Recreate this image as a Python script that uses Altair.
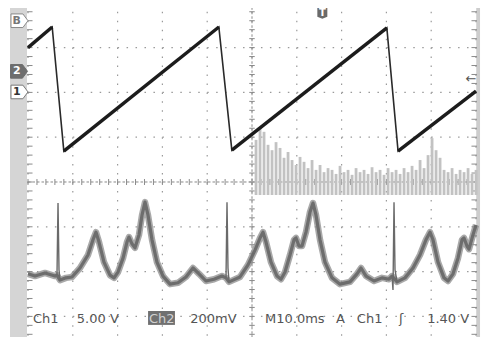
import altair as alt
import pandas as pd
import numpy as np

# ---------------- values ----------------
# time in ms (10 ms / division, 10 divisions), amplitude in screen divisions (0 = centre line)
saw_t = [0, 5.4, 8.0, 42.6, 45.5, 80.1, 82.6, 100]
saw_v = [3.0, 3.46, 0.69, 3.46, 0.71, 3.44, 0.69, 2.03]

# Ch2 trace (without the three narrow spikes)
ch2_t = [0, 1.56, 3.79, 6.03, 6.47, 7.14, 8.48, 9.82, 11.61, 13.39, 14.51, 15.18,
         15.85, 16.96, 18.30, 19.20, 20.09, 21.21, 22.10, 22.54, 23.21, 23.88, 24.78, 25.45,
         26.12, 26.79, 27.68, 28.79, 30.13, 31.70, 33.48, 35.27, 36.83, 38.17, 39.73, 41.52,
         43.30, 44.20, 44.87, 45.76, 47.32, 49.11, 50.67, 51.79, 52.46, 53.13,
         54.24, 55.58, 56.47, 57.37, 58.48, 59.38, 59.82, 60.49, 61.16, 62.05, 62.95, 63.62,
         64.29, 65.18, 66.29, 67.86, 69.64, 71.88, 73.44, 74.33, 75.45, 77.23, 79.02, 80.58,
         81.25, 82.37, 84.15, 85.94, 87.50, 88.84, 89.73, 90.40, 91.52,
         92.86, 93.75, 94.87, 95.98, 96.88, 97.32, 97.99, 98.44, 99.33, 100]
ch2_v = [-2.05, -2.10, -2.03, -2.10, -2.08, -2.19, -2.14, -2.12, -1.92, -1.63,
         -1.29, -1.12, -1.34, -1.79, -2.08, -2.14, -2.01, -1.70, -1.34, -1.23, -1.38, -1.47,
         -1.18, -0.74, -0.45, -0.74, -1.29, -1.79, -2.10, -2.28, -2.25, -2.12, -1.92, -2.05,
         -2.21, -2.17, -2.10, -2.14, -2.23, -2.19, -2.12, -1.85, -1.52, -1.25,
         -1.12, -1.34, -1.79, -2.10, -2.17, -2.01, -1.63, -1.29, -1.25, -1.43, -1.43, -1.12,
         -0.67, -0.47, -0.74, -1.29, -1.79, -2.14, -2.28, -2.23, -2.05, -1.92, -2.10, -2.21,
         -2.14, -2.17, -2.10, -2.23, -2.14, -1.92, -1.63, -1.29, -1.12,
         -1.29, -1.79, -2.14, -2.21, -2.05, -1.70, -1.29, -1.25, -1.43, -1.50, -1.18, -0.96]

# Ch2 narrow spikes (one per sawtooth reset)
spike_id = [0, 0, 0, 0, 1, 1, 1, 1, 2, 2, 2, 2, 2]
spike_t = [6.47, 6.70, 6.92, 7.14, 44.20, 44.42, 44.64, 44.87, 81.25, 81.47, 81.70, 81.92, 82.37]
spike_v = [-2.08, -0.47, -1.96, -2.19, -2.14, -0.45, -1.92, -2.23, -2.10, -2.41, -0.45, -1.96, -2.23]

# grey spectrum-like bars (one every 0.893 ms starting at 50.9 ms)
fft_start, fft_step, fft_base = 50.9, 0.893, -0.29
fft_top = [0.94, 1.21, 1.12, 0.83, 0.71, 0.89, 0.76, 0.54, 0.67, 0.49,
           0.38, 0.56, 0.45, 0.31, 0.49, 0.27, 0.38, 0.22, 0.31, 0.27,
           0.18, 0.36, 0.22, 0.27, 0.16, 0.31, 0.22, 0.27, 0.18, 0.33,
           0.22, 0.27, 0.16, 0.31, 0.22, 0.27, 0.18, 0.31, 0.22, 0.36,
           0.27, 0.49, 0.31, 0.60, 0.98, 0.71, 0.54, 0.27, 0.22, 0.31,
           0.18, 0.27, 0.22, 0.31, 0.18, 0.27]

labels = ["Ch1", "5.00 V", "Ch2", "200mV", "M10.0ms", "A", "Ch1", "ʃ", "1.40 V"]
label_t = [1.1, 10.9, 27.0, 36.2, 52.9, 68.75, 73.4, 82.8, 89.1]

# ---------------- scales ----------------
X = alt.Scale(domain=[0, 100], nice=False, zero=False)
Y = alt.Scale(domain=[-3.46, 3.884], nice=False, zero=False)
GRID_TOP, GRID_BOT = 4.0, -3.46


def xq(f):
    return alt.X(f, type="quantitative", scale=X, axis=None)


def yq(f):
    return alt.Y(f, type="quantitative", scale=Y, axis=None)


layers = []

# left grey strip and right band
strips = pd.DataFrame({"a": [-4.02, 100.05], "b": [-0.22, 100.9],
                       "c": [GRID_TOP, GRID_TOP], "d": [GRID_BOT, GRID_BOT],
                       "col": ["#d5d5d5", "#cdcdcd"]})
layers.append(alt.Chart(strips).mark_rect().encode(
    x=xq("a"), x2=alt.X2("b"), y=yq("c"), y2=alt.Y2("d"),
    color=alt.Color("col:N", scale=None)))

# dotted graticule
vg = pd.DataFrame({"t": list(range(0, 101, 10)), "y1": GRID_TOP, "y2": GRID_BOT})
layers.append(alt.Chart(vg).mark_rule(color="#9a9a9a", strokeWidth=1.2, strokeDash=[1.5, 7.46]).encode(
    x=xq("t"), y=yq("y1"), y2=alt.Y2("y2")))
hg = pd.DataFrame({"v": [-3, -2, -1, 1, 2, 3], "x1": 0, "x2": 100})
layers.append(alt.Chart(hg).mark_rule(color="#9a9a9a", strokeWidth=1.2, strokeDash=[1.5, 7.46]).encode(
    y=yq("v"), x=xq("x1"), x2=alt.X2("x2")))

# centre cross
cx = pd.DataFrame({"v": [0], "x1": [0], "x2": [100]})
layers.append(alt.Chart(cx).mark_rule(color="#8a8a8a", strokeWidth=1, strokeDash=[2.5, 2]).encode(
    y=yq("v"), x=xq("x1"), x2=alt.X2("x2")))
cy = pd.DataFrame({"t": [50], "y1": [GRID_TOP], "y2": [GRID_BOT]})
layers.append(alt.Chart(cy).mark_rule(color="#8a8a8a", strokeWidth=1, strokeDash=[2.5, 2]).encode(
    x=xq("t"), y=yq("y1"), y2=alt.Y2("y2")))

ht = pd.DataFrame({"t": np.arange(0, 100.01, 2.0), "v": 0.0})
layers.append(alt.Chart(ht).mark_point(shape="M0,-1L0,1", size=36, filled=False,
                                       stroke="#8a8a8a", strokeWidth=1, opacity=1).encode(
    x=xq("t"), y=yq("v")))
vt_v = np.arange(-3.4, 3.81, 0.2)
vt = pd.DataFrame({"t": np.concatenate([np.full(len(vt_v), 50.0), np.full(len(vt_v), 0.4),
                                         np.full(len(vt_v), 99.6)]),
                   "v": np.concatenate([vt_v, vt_v, vt_v])})
layers.append(alt.Chart(vt).mark_point(shape="M-1,0L1,0", size=30, filled=False,
                                       stroke="#8a8a8a", strokeWidth=1, opacity=1).encode(
    x=xq("t"), y=yq("v")))

# grey bars
fft = pd.DataFrame({"t": [fft_start + fft_step * i for i in range(len(fft_top))],
                    "top": fft_top, "base": fft_base})
layers.append(alt.Chart(fft).mark_rule(color="#c2c2c2", strokeWidth=2.8).encode(
    x=xq("t"), y=yq("base"), y2=alt.Y2("top")))

# Ch2 trace (fuzzy band)
c2 = pd.DataFrame({"t": ch2_t, "v": ch2_v})
layers.append(alt.Chart(c2).mark_line(color="#8c8c8c", strokeWidth=6.5, opacity=0.75,
                                      strokeJoin="round").encode(x=xq("t"), y=yq("v")))
layers.append(alt.Chart(c2).mark_line(color="#666666", strokeWidth=3.2, opacity=0.9,
                                      strokeJoin="round").encode(x=xq("t"), y=yq("v")))
sp = pd.DataFrame({"t": spike_t, "v": spike_v, "g": spike_id})
layers.append(alt.Chart(sp).mark_line(color="#6a6a6a", strokeWidth=1.4).encode(
    x=xq("t"), y=yq("v"), detail="g:N"))

# Ch1 sawtooth: thin fast edges, thick ramps
c1 = pd.DataFrame({"t": saw_t, "v": saw_v, "g": [i // 2 for i in range(len(saw_t))]})
layers.append(alt.Chart(c1).mark_line(color="#2a2a2a", strokeWidth=1.6).encode(
    x=xq("t"), y=yq("v")))
layers.append(alt.Chart(c1).mark_line(color="#1c1c1c", strokeWidth=3.4).encode(
    x=xq("t"), y=yq("v"), detail="g:N"))

# left channel markers
pent = "M-1,-0.8L0.4,-0.8L1,0L0.4,0.8L-1,0.8Z"
mk = pd.DataFrame({"t": [-1.9, -2.0, -1.9], "v": [3.60, 2.47, 2.01],
                   "fill": ["#ffffff", "#6e6e6e", "#ffffff"],
                   "stroke": ["#8a8a8a", "#6e6e6e", "#7a7a7a"]})
layers.append(alt.Chart(mk).mark_point(shape=pent, size=289, filled=True, opacity=1, strokeWidth=1).encode(
    x=xq("t"), y=yq("v"), fill=alt.Fill("fill:N", scale=None), stroke=alt.Stroke("stroke:N", scale=None)))
mkt = pd.DataFrame({"t": [-2.5, -2.5, -2.5], "v": [3.60, 2.47, 2.01], "txt": ["B", "2", "1"],
                    "col": ["#777777", "#ffffff", "#333333"]})
layers.append(alt.Chart(mkt).mark_text(font="DejaVu Sans", fontSize=11, fontWeight="bold",
                                       align="center", baseline="middle").encode(
    x=xq("t"), y=yq("v"), text="txt:N", color=alt.Color("col:N", scale=None)))

# trigger "T" icon and trigger level arrow
ti = pd.DataFrame({"t": [65.7], "v": [3.78]})
layers.append(alt.Chart(ti).mark_point(shape="M-1,-1.2L1,-1.2L1,0.8L0,1.2L-1,0.8Z", size=100,
                                       filled=True, fill="#6a6a6a", opacity=1).encode(
    x=xq("t"), y=yq("v")))
layers.append(alt.Chart(ti).mark_text(text="T", font="DejaVu Sans", fontSize=10, fontWeight="bold",
                                      color="#ffffff", baseline="middle").encode(
    x=xq("t"), y=yq("v")))
ar = pd.DataFrame({"t": [98.9], "v": [2.30]})
layers.append(alt.Chart(ar).mark_text(text="←", font="DejaVu Sans", fontSize=13, color="#555555",
                                      baseline="middle").encode(x=xq("t"), y=yq("v")))

# status line at bottom
box = pd.DataFrame({"a": [26.8], "b": [32.8], "c": [-2.88], "d": [-3.19]})
layers.append(alt.Chart(box).mark_rect(color="#707070").encode(
    x=xq("a"), x2=alt.X2("b"), y=yq("c"), y2=alt.Y2("d")))
lab = pd.DataFrame({"t": label_t, "v": -3.15, "txt": labels,
                    "col": ["#555555", "#555555", "#d0d0d0", "#555555", "#555555",
                            "#555555", "#555555", "#555555", "#555555"]})
layers.append(alt.Chart(lab).mark_text(font="DejaVu Sans", fontSize=13, align="left",
                                       baseline="alphabetic").encode(
    x=xq("t"), y=yq("v"), text="txt:N", color=alt.Color("col:N", scale=None)))

chart = alt.layer(*layers).properties(
    width=448, height=329,
    padding={"left": 20, "top": 0, "right": 6, "bottom": 3},
    autosize=alt.AutoSizeParams(type="none"),
    background="#ffffff",
).configure_view(stroke=None)

chart.save("out.html", embed_options={"renderer": "svg", "actions": False})
